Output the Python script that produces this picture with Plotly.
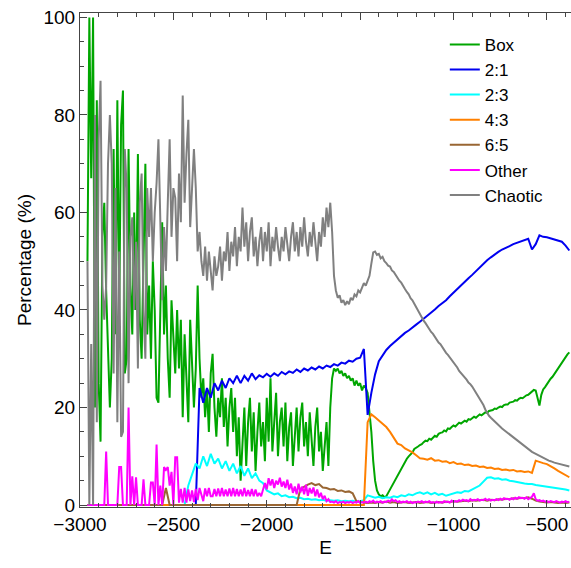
import plotly.graph_objects as go

# sampling grids (energy E)
E10 = list(range(-2960, -370, 10))   # 259 points
E20 = list(range(-2960, -370, 20))   # 130 points

# ---- series on E10 grid ----
box = [
    50, 100, 67, 100, 20, 83, 25, 13, 55, 62,
    44, 30, 20, 30, 73, 35, 83, 40, 78, 85,
    27, 30, 73, 45, 35, 60, 40, 72, 38, 30,
    55, 70, 35, 45, 30, 50, 40, 22, 21, 40,
    58, 35, 45, 30, 22, 42, 35, 27, 40, 28,
    38, 18, 35, 25, 17, 38, 30, 20, 28, 45,
    30, 22, 26, 18, 24, 15, 27, 31, 20, 14,
    22, 18, 26, 16, 22, 12, 20, 24, 15, 22,
    10, 18, 5, 14, 20, 8, 17, 22, 11, 19,
    7, 15, 21, 12, 17, 9, 22, 13, 26, 11,
    18, 23, 10, 17, 20, 12, 21, 9, 16, 19,
    8, 14, 20, 11, 18, 21, 12, 17, 10, 19,
    14, 8, 16, 20, 11, 15, 7, 13, 17, 8,
    20, 26, 28, 27.5, 28, 27, 27.5, 26.5, 27, 26,
    26.5, 25.5, 26, 24.5, 25.5, 24.5, 25, 23.5, 24.5, 24,
    23, 19, 15, 9, 5, 3, 2.2, 1.8, 2, 1.6,
    1.8, 2.5, 3.2, 4, 4.8, 5.6, 6.2, 6.8, 7.5, 8.2,
    8.8, 9.5, 10, 10.4, 10.8, 11.5, 11.7, 12, 12.3, 12.5,
    12.9, 13.2, 13.1, 13.6, 13.4, 13.8, 14.2, 14, 14.6, 14.8,
    14.9, 15.3, 15.1, 15.7, 15.6, 16, 16.3, 16.1, 16.6, 16.9,
    16.7, 17.1, 17.3, 17.1, 17.6, 17.5, 17.8, 18.1, 17.9, 18.3,
    18.6, 18.4, 18.8, 19, 18.9, 19.3, 19.4, 19.5, 19.8, 19.7,
    20, 20.2, 20.1, 20.5, 20.6, 20.6, 21, 21.1, 21.2, 21.5,
    21.4, 21.8, 22, 21.9, 22.3, 22.5, 22.6, 22.9, 23.2, 23.6,
    23.5, 21.8, 20.4, 22.6, 23.7, 24.2, 24.8, 25.3, 25.9, 26.3,
    26.9, 27.4, 27.9, 28.6, 29.1, 29.7, 30.4, 30.9, 31.3,
]

chaotic = [
    50, 0, 33, 0, 80, 17, 75, 87, 45, 38,
    45, 70, 80, 70, 27, 65, 17, 52, 14, 15,
    73, 65, 25, 55, 59, 40, 54, 28, 62, 68,
    40, 30, 65, 55, 65, 50, 60, 66, 75, 56,
    42, 57, 48, 62, 75, 55, 65, 63, 50, 68,
    58, 84, 62, 72, 79, 57, 64, 73, 65, 52,
    56, 50, 47, 53, 46, 52, 48, 44, 51, 47,
    49, 53, 46, 52, 50, 56, 48, 54, 51, 57,
    49, 55, 52, 61, 53, 58, 50, 56, 59, 51,
    55, 49, 54, 57, 50, 56, 52, 58, 49, 55,
    52, 57, 53, 50, 55, 52, 57, 53, 50, 55,
    58, 52, 56, 51, 57, 53, 59, 54, 51, 56,
    53, 58, 54, 50, 56, 53, 59, 55, 61, 57,
    62, 56, 47, 44, 42.5, 43, 41.5, 42, 41, 41.8,
    41.2, 42.5, 42, 43.2, 42.8, 44, 43.6, 44.8, 45.5, 45,
    46, 47, 49.5, 51.8, 52, 51.3, 51.5, 50.6, 50.9, 50,
    49.6, 49.1, 48.9, 48.1, 47.8, 47.1, 46.6, 46, 45.6, 44.8,
    44.3, 43.7, 43.2, 42.4, 42, 41.3, 40.6, 39.9, 39.2, 38.3,
    37.8, 37.3, 36.6, 36.2, 35.5, 35.1, 34.5, 34, 33.3, 33,
    32.3, 31.9, 31.2, 30.8, 30.3, 29.6, 29.2, 28.6, 28.2, 27.5,
    27.1, 26.6, 26.1, 25.7, 25.1, 24.8, 24.3, 23.7, 23.1, 22.4,
    21.9, 21.2, 20.5, 19.6, 18.9, 18.3, 17.9, 17.5, 17.1, 16.7,
    16.4, 16.1, 15.7, 15.4, 15.1, 14.8, 14.5, 14.2, 13.9, 13.5,
    13.2, 12.9, 12.6, 12.3, 12, 11.7, 11.4, 11.2, 10.9, 10.7,
    10.5, 10.2, 10, 9.8, 9.6, 9.4, 9.3, 9.1, 9, 8.8,
    8.7, 8.6, 8.5, 8.4, 8.3, 8.2, 8.1, 8, 7.9,
]

other = [
    0, 0, 0, 0, 0, 0, 0, 0, 0, 0,
    11, 0, 0, 0, 0, 0, 0, 7.8, 7.8, 0,
    0, 0, 20, 0, 5.9, 0, 5.7, 0, 0, 0,
    5.3, 0, 0, 0, 4.6, 4.6, 0, 12.4, 0, 4,
    0, 7.8, 7.2, 7.8, 4, 6.8, 0, 9.8, 9.8, 0.5,
    3.3, 0.5, 3.5, 0.5, 3.2, 0.8, 3, 0.6, 3.3, 1,
    3.5, 1.8, 0.8, 3.4, 1.8, 3.5, 1.8, 1.8, 3.3, 1.8,
    3.4, 1.8, 3.5, 1.8, 3.2, 1.8, 3.4, 1.8, 3.5, 1.8,
    3.3, 1.8, 3.2, 1.8, 3.5, 1.8, 3.1, 1.8, 3.3, 1.8,
    3.2, 1.8, 2.5, 1.8, 3, 4.5, 3.2, 5.5, 4, 5.3,
    3.5, 5, 4.2, 5.6, 3.8, 4.8, 3.5, 5.2, 3.2, 4.4,
    2.5, 3.8, 2.2, 4.4, 2.6, 3.8, 2.2, 4.2, 1.9, 3.5,
    2.4, 3.6, 1.8, 3.2, 1.6, 2.5, 1.2, 1.9, 0.8, 1.2,
    0.6, 0.7, 0.5, 0.8, 0.4, 0.6, 0.5, 0.7, 0.4, 0.6,
    0.5, 0.7, 0.4, 0.6, 0.5, 0.8, 0.4, 0.6, 0.5, 0.7,
    0.5, 0.8, 0.6, 0.9, 0.5, 0.7, 0.6, 0.8, 0.5, 0.7,
    0.6, 0.9, 0.7, 1.2, 0.8, 1, 0.6, 0.8, 0.5, 0.7,
    0.6, 0.8, 0.5, 0.7, 0.4, 0.6, 0.5, 0.7, 0.6, 0.8,
    0.5, 0.7, 0.6, 0.8, 0.5, 0.6, 0.4, 0.7, 0.5, 0.6,
    0.5, 0.8, 0.6, 0.7, 0.5, 0.9, 0.6, 0.8, 0.7, 1,
    0.8, 1.1, 0.9, 1, 0.8, 1.2, 0.9, 1.1, 1, 1.2,
    0.9, 1.1, 1, 1.3, 1, 1.2, 0.9, 1.1, 1, 1.2,
    1, 1.3, 1.1, 1.4, 1.2, 1.3, 1.1, 1.4, 1.2, 1.5,
    1.3, 1.6, 1.4, 1.5, 1.3, 1.6, 1.2, 1.4, 1.7, 2.4,
    1.2, 0.9, 1, 0.8, 0.9, 0.7, 0.8, 0.6, 0.8, 0.7,
    0.6, 0.8, 0.7, 0.5, 0.7, 0.6, 0.8, 0.6, 0.7,
]

# ---- series on E20 grid ----
r21 = (
    [0] * 30 +
    [24, 21, 24, 22, 25,
     23.5, 25.5, 24, 26, 25,
     26.5, 25, 26.5, 25.5, 27,
     25.8, 26.6, 26.2, 26.9, 26.3,
     27, 26.5, 27.3, 26.8, 27.4,
     27.1, 27.8, 27.3, 28, 27.6,
     28.2, 27.8, 28.4, 28, 28.6,
     28.3, 28.9, 28.6, 29.2, 29,
     29.6, 29.4, 30, 30.2, 32,
     18.5, 23, 26.8, 29.5, 30.8,
     31.8, 32.6, 33.3, 34, 34.6,
     35.3, 35.8, 36.5, 37, 37.6,
     38.2, 38.8, 39.5, 40.1, 40.8,
     41.4, 42, 42.8, 43.5, 44.2,
     45, 45.7, 46.5, 47.2, 48,
     48.7, 49.5, 50.2, 50.8, 51.4,
     51.9, 52.4, 52.7, 53.1, 53.5,
     53.8, 54.1, 54.3, 54.6, 52.4,
     53.5, 55.3, 55, 54.9, 54.7,
     54.5, 54.3, 54, 53.2, 52.2]
)

r23 = (
    [0] * 25 +
    [0, 0, 4, 6.5, 8.5,
     7.5, 10, 8, 10.5, 8.5,
     9.5, 7.5, 9, 7, 8.5,
     6.5, 8, 6, 7.5, 5.5,
     6.5, 5, 4.5, 3, 2.6,
     2.2, 2.4, 1.8, 2, 1.6,
     1.7, 1.4, 1.5, 1.2, 1.3,
     1.1, 1.2, 1, 1.1, 0.9,
     1, 0.9, 1, 0.8, 0.9,
     0.8, 0.9, 0.7, 0.8, 1,
     2, 1.8, 1.5, 1.7, 1.4,
     1.6, 1.5, 1.8, 1.6, 2,
     1.8, 2.2, 2, 2.4, 2.6,
     2.3, 2.6, 2.2, 2.5, 2.1,
     2.3, 1.9, 2.1, 2.4, 2.6,
     2.5, 2.9, 2.8, 3.2, 3.5,
     4, 4.8, 5.6, 5.7, 5.4,
     5.5, 5.2, 5.3, 5, 4.9,
     4.7, 4.6, 4.4, 4.3, 4.3,
     4.1, 4, 3.8, 3.8, 3.6,
     3.5, 3.4, 3.3, 3.2, 3]
)

r43 = (
    [0] * 75 +
    [17, 18.6, 18, 17.3, 16.8,
     16, 15, 13.8, 12.6, 12.3,
     11.6, 11.2, 10.8, 10.2, 9.6,
     9.5, 9.3, 9.6, 9.1, 9.2,
     8.9, 9, 8.6, 8.8, 8.4,
     8.5, 8.2, 8.3, 8, 8.1,
     7.8, 7.9, 7.6, 7.7, 7.4,
     7.5, 7.2, 7.3, 7.1, 7.2,
     6.9, 7, 6.8, 6.9, 6.6,
     9.1, 8.8, 8.6, 8.4, 8,
     7.5, 7, 6.6, 6.1, 5.7]
)

r65 = (
    [0] * 20 +
    [0, 3.5, 0, 0, 0] +
    [0] * 30 +
    [0, 0, 3.3, 3.8, 4.2,
     4.5, 4.1, 4.3, 3.6, 3.5,
     3.2, 3.3, 2.9, 3, 2.7,
     2.8, 2.4, 0.8, 0.6, 0.5,
     0.4, 0.5, 0.4, 0.6, 0.5,
     0.7, 0.5, 0.6, 0.4, 0.5,
     0.6, 0.4, 0.5, 0.6, 0.4,
     0.5, 0.6, 0.4, 0.5, 0.6,
     0.5, 0.7, 0.6, 0.8, 0.7,
     0.8, 0.9, 0.8, 1, 0.9,
     1, 1.1, 0.9, 1.1, 1,
     1.2, 1.1, 1.3, 1.2, 1.4,
     1.3, 1.5, 1.4, 1.6, 1.3,
     0.9, 0.7, 0.6, 0.5, 0.6,
     0.5, 0.4, 0.5, 0.4, 0.5]
)

names = ["Box", "2:1", "2:3", "4:3", "6:5", "Other", "Chaotic"]
colors = ["#00A600", "#0000F0", "#00FFFF", "#FF8000", "#996633", "#FF00FF", "#808080"]
series = [(E10, box), (E20, r21), (E20, r23), (E20, r43), (E20, r65), (E10, other), (E10, chaotic)]

fig = go.Figure()
for name, col, (xs, ys) in zip(names, colors, series):
    n = min(len(xs), len(ys))
    fig.add_trace(go.Scatter(x=xs[:n], y=ys[:n], mode="lines", name=name,
                             line=dict(color=col, width=2)))

font = "Liberation Sans, Arial, Helvetica, sans-serif"
axis_common = dict(
    showgrid=False, zeroline=False, showline=True, linecolor="#444", linewidth=1,
    ticks="inside", ticklen=7, tickwidth=1, tickcolor="#444", automargin=False,
    tickfont=dict(family=font, size=19, color="black"),
)
fig.update_layout(
    width=571, height=568,
    margin=dict(l=80, r=0, t=13, b=61, pad=0),
    paper_bgcolor="white", plot_bgcolor="white",
    font=dict(family=font, size=19, color="black"),
    xaxis=dict(range=[-3000, -371], tickvals=[-3000, -2500, -2000, -1500, -1000, -500],
               mirror="ticks",
               minor=dict(dtick=100, ticks="inside", ticklen=4, tickcolor="#444"),
               title=dict(text="E", standoff=6, font=dict(family=font, size=19)),
               **axis_common),
    yaxis=dict(range=[-0.4, 100.9], tickvals=[0, 20, 40, 60, 80, 100],
               minor=dict(dtick=5, ticks="inside", ticklen=4, tickcolor="#444"),
               title=dict(text="Percentage (%)", standoff=6, font=dict(family=font, size=19)),
               **axis_common),
    legend=dict(x=0.743, y=0.972, xanchor="left", yanchor="top",
                bgcolor="rgba(0,0,0,0)", font=dict(family=font, size=17)),
    showlegend=True,
)
fig.write_html("out.html", config={"displayModeBar": False},
               post_script="document.body.style.margin='0px';document.body.style.overflow='hidden';")
